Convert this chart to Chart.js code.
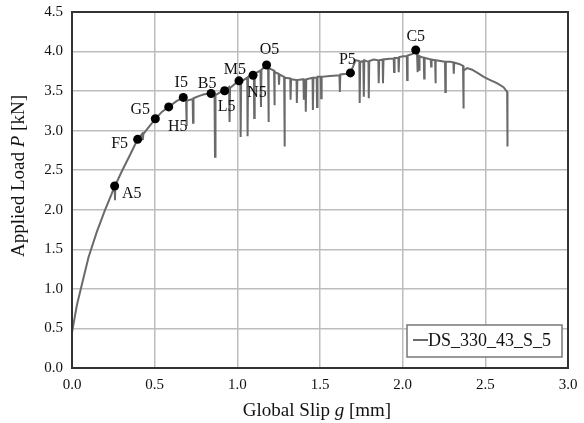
<!DOCTYPE html>
<html>
<head>
<meta charset="utf-8">
<script src="https://cdn.jsdelivr.net/npm/chart.js@4.4.1/dist/chart.umd.min.js"></script>
<style>
  html, body { margin: 0; padding: 0; background: #fff; }
  #wrap { width: 584px; height: 423px; }
</style>
</head>
<body>
<div id="wrap"><canvas id="slipChart"></canvas></div>
<script>
// load-slip curve of specimen DS_330_43_S_5
const curveSlip = [
  0.000, 0.030, 0.066, 0.100, 0.150, 0.200, 0.240, 0.258, 0.260, 0.262,
  0.300, 0.350, 0.397, 0.425, 0.428, 0.432, 0.470, 0.504, 0.545, 0.585,
  0.630, 0.673, 0.690, 0.692, 0.695, 0.730, 0.732, 0.735, 0.770, 0.800,
  0.841, 0.862, 0.865, 0.868, 0.900, 0.923, 0.950, 0.953, 0.956, 0.990,
  1.010, 1.018, 1.020, 1.023, 1.060, 1.062, 1.065, 1.095, 1.100, 1.102,
  1.105, 1.140, 1.143, 1.146, 1.177, 1.186, 1.188, 1.191, 1.222, 1.224,
  1.227, 1.250, 1.252, 1.255, 1.283, 1.285, 1.288, 1.320, 1.322, 1.325,
  1.358, 1.360, 1.363, 1.400, 1.402, 1.405, 1.412, 1.414, 1.417, 1.455,
  1.457, 1.460, 1.480, 1.482, 1.485, 1.505, 1.507, 1.510, 1.560, 1.618,
  1.620, 1.623, 1.660, 1.684, 1.700, 1.715, 1.738, 1.740, 1.743, 1.762,
  1.765, 1.768, 1.793, 1.795, 1.798, 1.825, 1.853, 1.855, 1.858, 1.879,
  1.881, 1.884, 1.920, 1.946, 1.948, 1.951, 1.974, 1.976, 1.979, 2.005,
  2.025, 2.027, 2.030, 2.060, 2.079, 2.087, 2.089, 2.092, 2.097, 2.099,
  2.102, 2.128, 2.130, 2.133, 2.170, 2.172, 2.175, 2.196, 2.198, 2.201,
  2.230, 2.256, 2.258, 2.261, 2.290, 2.307, 2.309, 2.312, 2.345, 2.365,
  2.367, 2.370, 2.390, 2.420, 2.460, 2.490, 2.530, 2.570, 2.610, 2.632,
  2.634
];
const curveLoad = [
  0.45, 0.80, 1.11, 1.40, 1.72, 2.00, 2.20, 2.30, 2.12, 2.31,
  2.48, 2.69, 2.89, 2.96, 2.88, 2.96, 3.06, 3.15, 3.24, 3.30,
  3.37, 3.42, 3.39, 3.06, 3.38, 3.40, 3.10, 3.41, 3.44, 3.46,
  3.47, 3.48, 2.67, 3.45, 3.49, 3.505, 3.55, 3.11, 3.54, 3.60,
  3.63, 3.64, 2.92, 3.62, 3.67, 2.93, 3.68, 3.70, 3.72, 3.16,
  3.72, 3.76, 3.30, 3.77, 3.83, 3.82, 3.11, 3.79, 3.76, 3.32,
  3.74, 3.72, 3.58, 3.71, 3.68, 2.80, 3.67, 3.66, 3.39, 3.65,
  3.64, 3.35, 3.64, 3.65, 3.39, 3.64, 3.64, 3.24, 3.65, 3.67,
  3.26, 3.67, 3.67, 3.30, 3.68, 3.68, 3.41, 3.68, 3.69, 3.70,
  3.49, 3.71, 3.72, 3.73, 3.81, 3.89, 3.88, 3.35, 3.87, 3.88,
  3.43, 3.89, 3.87, 3.41, 3.88, 3.90, 3.89, 3.60, 3.89, 3.90,
  3.60, 3.90, 3.91, 3.91, 3.74, 3.92, 3.92, 3.74, 3.93, 3.94,
  3.94, 3.64, 3.95, 3.97, 4.02, 3.98, 3.74, 3.96, 3.95, 3.77,
  3.94, 3.92, 3.66, 3.92, 3.90, 3.81, 3.90, 3.89, 3.60, 3.89,
  3.88, 3.87, 3.49, 3.87, 3.87, 3.86, 3.72, 3.86, 3.84, 3.82,
  3.28, 3.76, 3.79, 3.77, 3.72, 3.68, 3.64, 3.60, 3.55, 3.49,
  2.80
];

// named stages marked on the curve
const stageNames = ['A5', 'F5', 'G5', 'H5', 'I5', 'B5', 'L5', 'M5', 'N5', 'O5', 'P5', 'C5'];
const stageSlip = [0.258, 0.397, 0.504, 0.585, 0.673, 0.841, 0.923, 1.010, 1.095, 1.177, 1.684, 2.079];
const stageLoad = [2.30, 2.89, 3.15, 3.30, 3.42, 3.47, 3.505, 3.63, 3.70, 3.83, 3.73, 4.02];

const xTickValues = [0, 0.5, 1.0, 1.5, 2.0, 2.5, 3.0];
const yTickValues = [0, 0.5, 1.0, 1.5, 2.0, 2.5, 3.0, 3.5, 4.0, 4.5];
const seriesName = 'DS_330_43_S_5';

// where each stage label sits relative to its dot (px)
const labelShift = {
  A5: [17, 8], F5: [-18, 4], G5: [-15, -9], H5: [9, 20], I5: [-2, -15], B5: [-4, -10],
  L5: [2, 16], M5: [-4, -11], N5: [4, 18], O5: [3, -15], P5: [-3, -13], C5: [0, -13]
};

const SERIF = '"Liberation Serif", "Times New Roman", serif';

function toPoints(xs, ys) {
  return xs.map((x, i) => ({ x: x, y: ys[i] }));
}

// draw a string made of [text, italic] pieces, centred on (0,0)
function drawPieces(ctx, pieces, size) {
  const fonts = pieces.map(p => (p[1] ? 'italic ' : '') + size + 'px ' + SERIF);
  let total = 0;
  const widths = pieces.map((p, i) => { ctx.font = fonts[i]; const w = ctx.measureText(p[0]).width; total += w; return w; });
  let x = -total / 2;
  pieces.forEach((p, i) => {
    ctx.font = fonts[i];
    ctx.fillText(p[0], x, 0);
    x += widths[i];
  });
}

const decorations = {
  id: 'decorations',
  afterDatasetsDraw(chart) {
    const ctx = chart.ctx;
    const area = chart.chartArea;

    // frame round the plot
    ctx.save();
    ctx.strokeStyle = '#333';
    ctx.lineWidth = 2;
    ctx.strokeRect(area.left, area.top, area.right - area.left, area.bottom - area.top);

    // stage labels
    const meta = chart.getDatasetMeta(1);
    ctx.fillStyle = '#111';
    ctx.font = '16px ' + SERIF;
    ctx.textAlign = 'center';
    ctx.textBaseline = 'middle';
    meta.data.forEach((pt, i) => {
      const name = stageNames[i];
      const s = labelShift[name];
      ctx.fillText(name, pt.x + s[0], pt.y + s[1]);
    });

    // legend box
    const lx = area.right - 161, ly = area.bottom - 43, lw = 155, lh = 32;
    ctx.fillStyle = '#fff';
    ctx.fillRect(lx, ly, lw, lh);
    ctx.strokeStyle = '#777';
    ctx.lineWidth = 1.5;
    ctx.strokeRect(lx, ly, lw, lh);
    ctx.strokeStyle = '#6a6a6a';
    ctx.lineWidth = 2;
    ctx.beginPath();
    ctx.moveTo(lx + 6, ly + 15);
    ctx.lineTo(lx + 21, ly + 15);
    ctx.stroke();
    ctx.fillStyle = '#111';
    ctx.font = '18px ' + SERIF;
    ctx.textAlign = 'left';
    ctx.fillText(seriesName, lx + 21, ly + 16);

    // axis titles
    ctx.textAlign = 'left';
    ctx.textBaseline = 'middle';
    ctx.save();
    ctx.translate((area.left + area.right) / 2 - 3, 411);
    drawPieces(ctx, [['Global Slip ', false], ['g', true], [' [mm]', false]], 19);
    ctx.restore();
    ctx.save();
    ctx.translate(19, 176);
    ctx.rotate(-Math.PI / 2);
    drawPieces(ctx, [['Applied Load ', false], ['P', true], [' [kN]', false]], 19);
    ctx.restore();
    ctx.restore();
  }
};

new Chart(document.getElementById('slipChart'), {
  type: 'scatter',
  data: {
    datasets: [{
      label: seriesName,
      data: toPoints(curveSlip, curveLoad),
      showLine: true,
      borderColor: '#6a6a6a',
      borderWidth: 2,
      pointRadius: 0,
      tension: 0,
      order: 2
    }, {
      label: 'stages',
      data: toPoints(stageSlip, stageLoad),
      showLine: false,
      pointRadius: 4.5,
      pointBackgroundColor: '#000',
      pointBorderColor: '#000',
      pointBorderWidth: 0,
      order: 1
    }]
  },
  options: {
    responsive: true,
    maintainAspectRatio: false,
    animation: false,
    layout: { padding: { left: 0, right: 16, top: 12, bottom: 0 } },
    plugins: {
      legend: { display: false },
      tooltip: { enabled: false }
    },
    scales: {
      x: {
        type: 'linear',
        min: 0,
        max: 3,
        afterBuildTicks: s => { s.ticks = xTickValues.map(v => ({ value: v })); },
        afterFit: s => { s.height = 55; s.paddingLeft = 0; s.paddingRight = 0; },
        grid: { color: '#bdbdbd', lineWidth: 1.5, drawTicks: false },
        border: { display: false },
        ticks: {
          padding: 8,
          color: '#111',
          font: { family: SERIF, size: 15 },
          callback: v => v.toFixed(1)
        }
      },
      y: {
        type: 'linear',
        min: 0,
        max: 4.5,
        afterBuildTicks: s => { s.ticks = yTickValues.map(v => ({ value: v })); },
        afterFit: s => { s.width = 72; s.paddingTop = 0; s.paddingBottom = 0; },
        grid: { color: '#bdbdbd', lineWidth: 1.5, drawTicks: false },
        border: { display: false },
        ticks: {
          padding: 9,
          color: '#111',
          font: { family: SERIF, size: 15 },
          callback: v => v.toFixed(1)
        }
      }
    }
  },
  plugins: [decorations]
});
</script>
</body>
</html>
